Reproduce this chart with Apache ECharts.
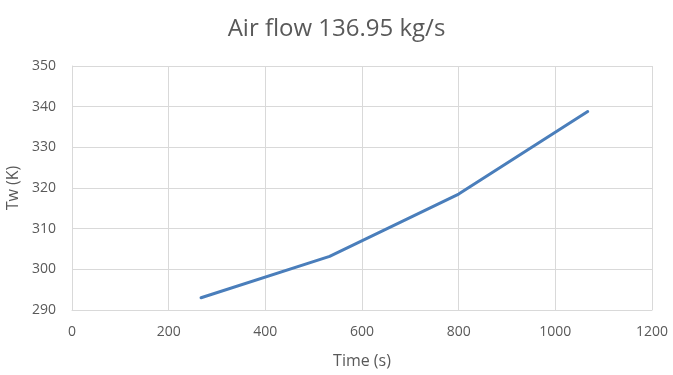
<!DOCTYPE html>
<html><head><meta charset="utf-8">
<script src="https://cdn.jsdelivr.net/npm/echarts@6/dist/echarts.min.js"></script>
<style>html,body{margin:0;padding:0;background:#fff}#c{width:673px;height:375px}</style>
</head><body><div id="c"></div>
<script>
const titleText = "Air flow 136.95 kg/s";
const xName = "Time (s)";
const yName = "Tw (K)";
const timeValues = [267, 533, 800, 1067];
const twValues = [293, 303.2, 318.5, 338.8];
const data = timeValues.map((t, i) => [t, twValues[i]]);
const font = "'Open Sans', 'Noto Sans', sans-serif";
const chart = echarts.init(document.getElementById('c'), null, {renderer: 'canvas'});
chart.setOption({
  animation: false,
  backgroundColor: '#fff',
  title: {text: titleText, left: 'center', top: 12,
    textStyle: {fontFamily: font, fontSize: 24, fontWeight: 'normal', color: '#595959'}},
  grid: {left: 72, right: 21, top: 66, bottom: 65, containLabel: false, outerBoundsMode: 'none'},
  xAxis: {type: 'value', min: 0, max: 1200, interval: 200,
    name: xName, nameLocation: 'middle', nameGap: 43,
    nameTextStyle: {fontFamily: font, fontSize: 16, color: '#595959'},
    axisLine: {show: true, lineStyle: {color: '#d9d9d9'}},
    axisTick: {show: false},
    axisLabel: {fontFamily: font, fontSize: 14, color: '#595959', margin: 15,
      formatter: v => String(v)},
    splitLine: {show: true, lineStyle: {color: '#d9d9d9'}}},
  yAxis: {type: 'value', min: 290, max: 350, interval: 10,
    name: yName, nameLocation: 'middle', nameGap: 50,
    nameTextStyle: {fontFamily: font, fontSize: 16, color: '#595959'},
    axisLine: {show: true, lineStyle: {color: '#d9d9d9'}},
    axisTick: {show: false},
    axisLabel: {fontFamily: font, fontSize: 14, color: '#595959', margin: 16,
      formatter: v => String(v)},
    splitLine: {show: true, lineStyle: {color: '#d9d9d9'}}},
  series: [{type: 'line', data: data, showSymbol: false, symbol: 'none',
    lineStyle: {color: '#4a7ebb', width: 3, cap: 'round', join: 'round'}}]
});
</script></body></html>
